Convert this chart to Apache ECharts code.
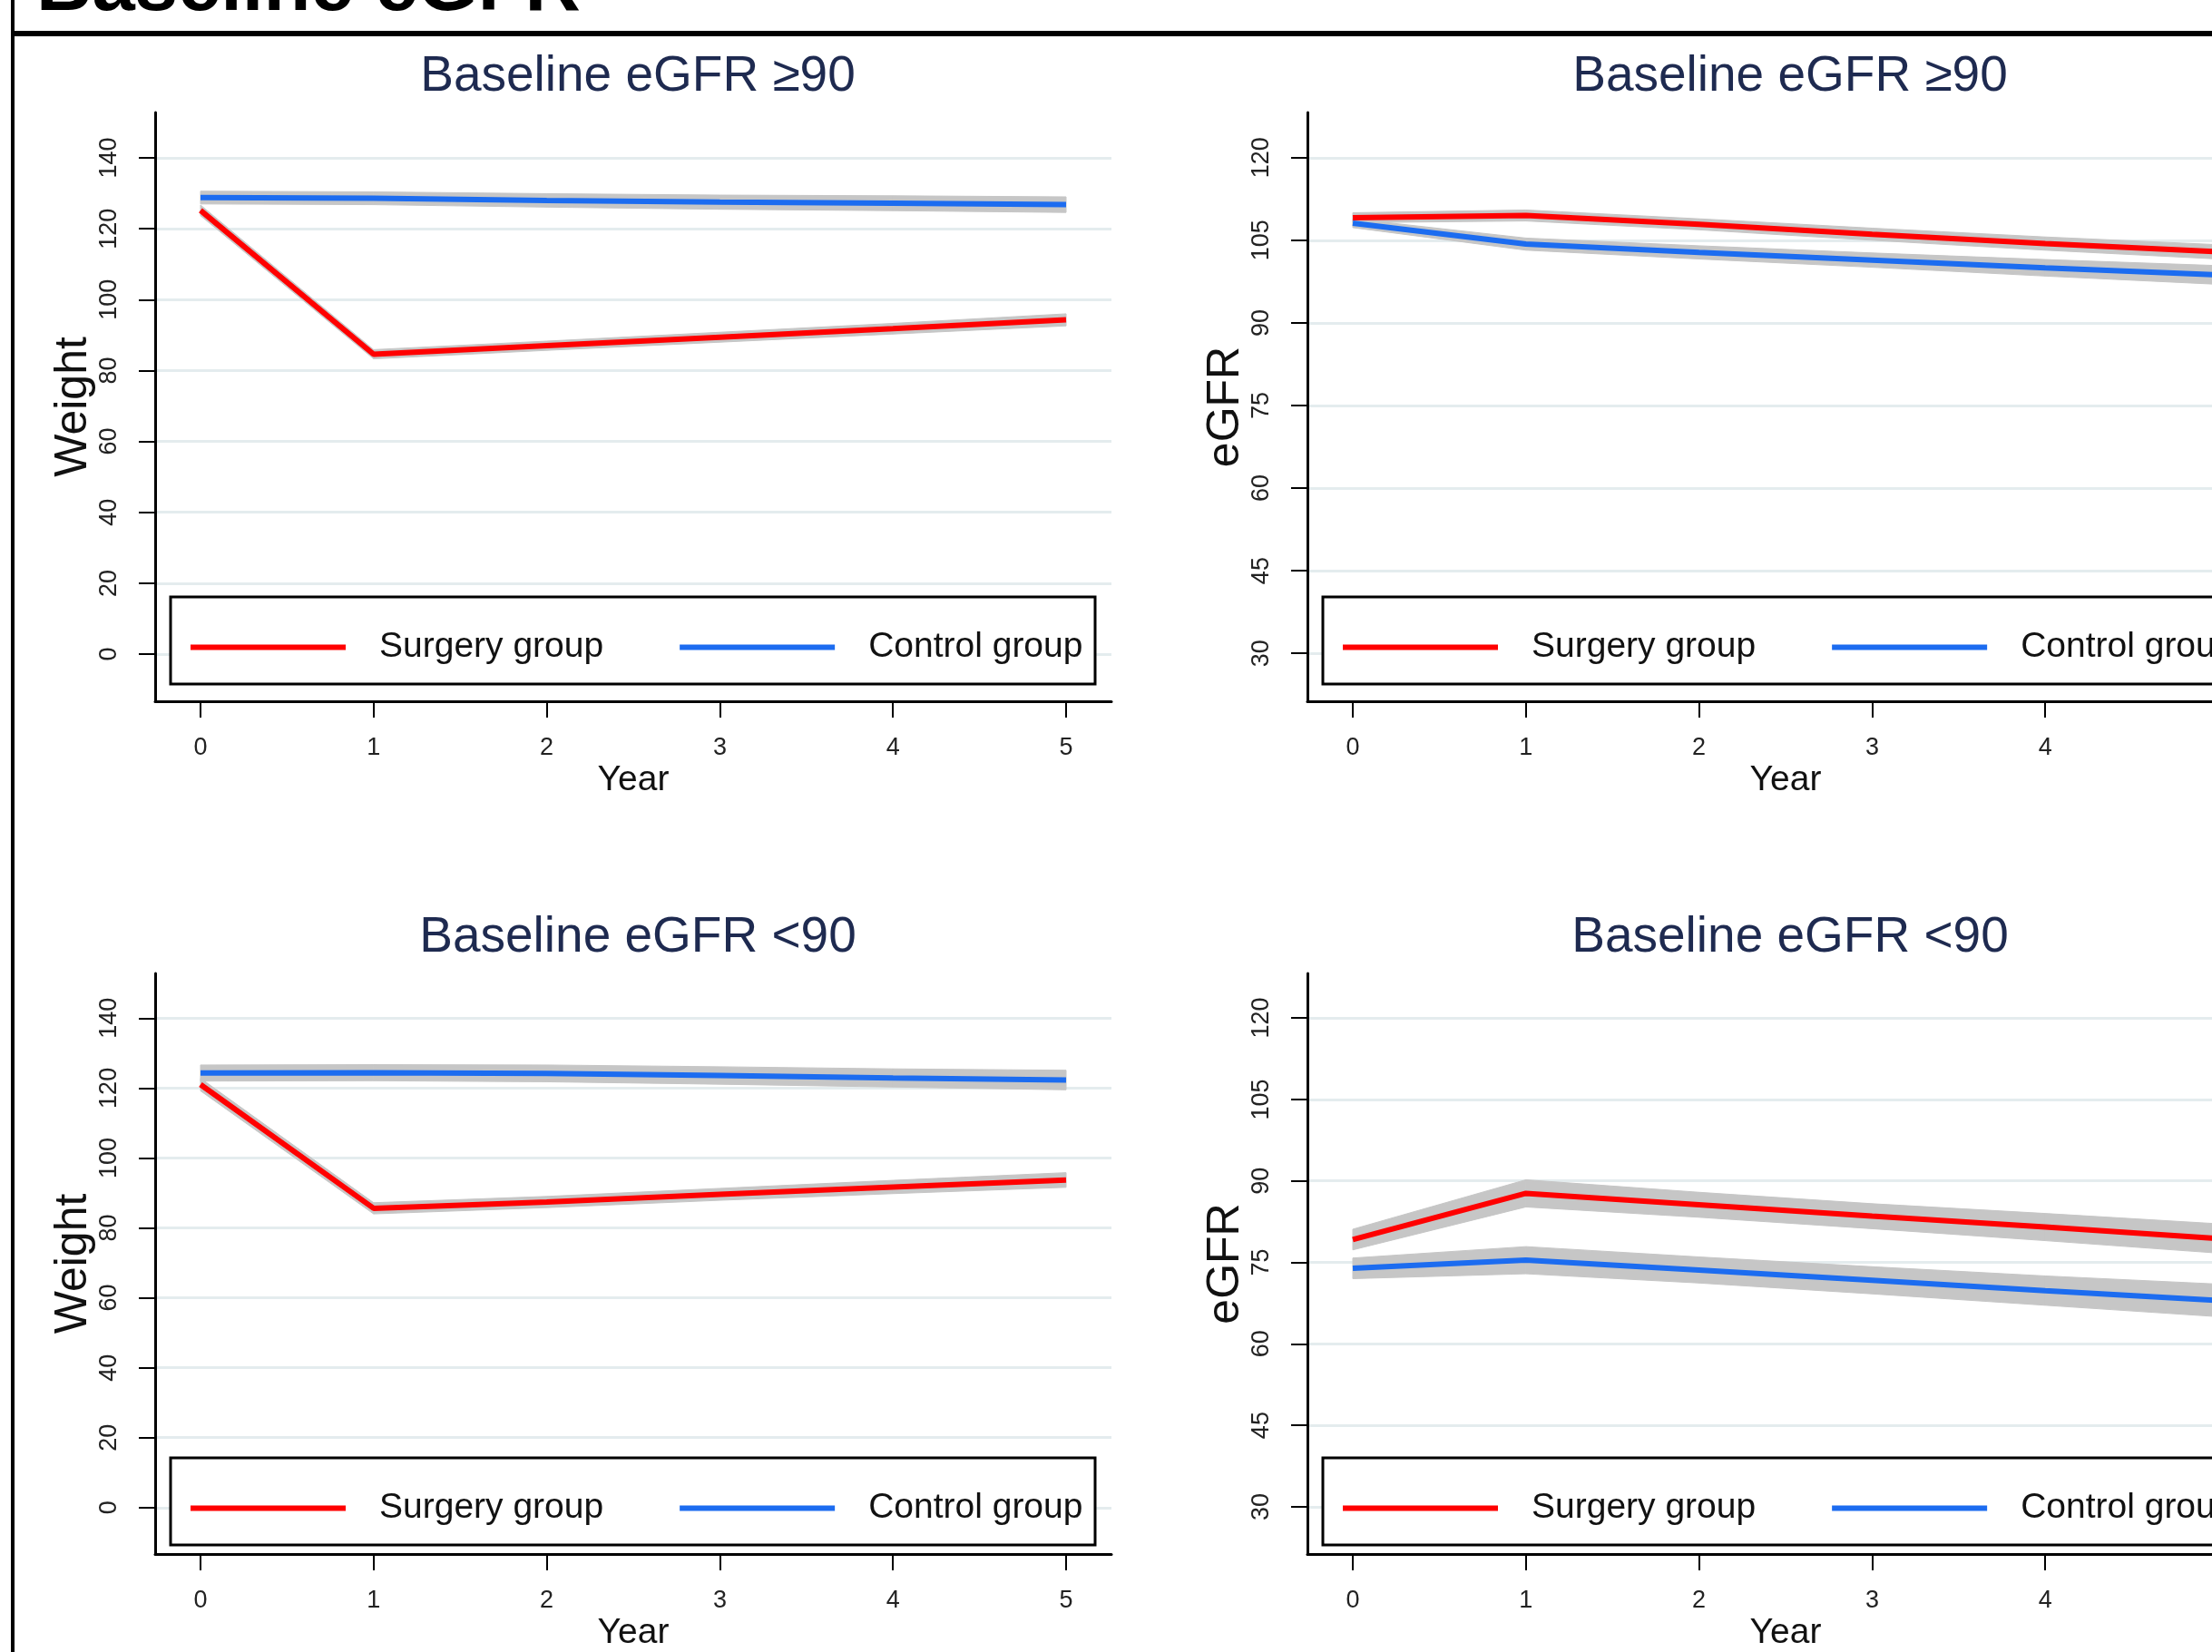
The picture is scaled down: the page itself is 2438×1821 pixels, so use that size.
<!DOCTYPE html>
<html>
<head>
<meta charset="utf-8">
<script src="https://cdn.jsdelivr.net/npm/echarts@6/dist/echarts.min.js"></script>
<style>
  html, body { margin: 0; padding: 0; background: #fff; overflow: hidden; }
  /* the right-hand panels run past the edge of the picture */
  #chart { width: 2520px; height: 1821px; }
</style>
</head>
<body>
<div id="chart"></div>
<script>
// years of follow-up
var years = [0, 1, 2, 3, 4, 5];
var xTicks = [0, 1, 2, 3, 4, 5];
var weightTicks = [0, 20, 40, 60, 80, 100, 120, 140];
var egfrTicks = [30, 45, 60, 75, 90, 105, 120];

// Weight, baseline eGFR >=90
var wHiSurgery   = [125.2, 84.6, 87.0, 89.4, 91.8, 94.3];
var wHiSurgeryLo = [123.7, 83.3, 85.7, 88.0, 90.3, 92.6];
var wHiSurgeryUp = [126.7, 85.9, 88.3, 90.8, 93.3, 96.0];
var wHiControl   = [128.8, 128.6, 128.0, 127.5, 127.2, 126.8];
var wHiControlLo = [127.0, 126.8, 126.1, 125.5, 125.1, 124.6];
var wHiControlUp = [130.6, 130.4, 129.9, 129.5, 129.3, 129.0];

// eGFR, baseline eGFR >=90
var eHiSurgery   = [109.1, 109.5, 107.9, 106.1, 104.4, 102.9];
var eHiSurgeryLo = [108.2, 108.5, 106.9, 105.0, 103.2, 101.6];
var eHiSurgeryUp = [110.0, 110.5, 108.9, 107.2, 105.6, 104.2];
var eHiControl   = [108.1, 104.3, 102.8, 101.4, 100.0, 98.7];
var eHiControlLo = [107.3, 103.2, 101.6, 100.1, 98.5, 97.0];
var eHiControlUp = [108.9, 105.4, 104.0, 102.7, 101.5, 100.4];

// Weight, baseline eGFR <90
var wLoSurgery   = [121.0, 85.6, 87.4, 89.6, 91.7, 93.7];
var wLoSurgeryLo = [119.2, 84.0, 85.8, 87.9, 89.8, 91.6];
var wLoSurgeryUp = [122.8, 87.2, 89.0, 91.3, 93.6, 95.8];
var wLoControl   = [124.3, 124.4, 124.2, 123.6, 122.9, 122.3];
var wLoControlLo = [122.0, 122.1, 121.8, 121.1, 120.3, 119.5];
var wLoControlUp = [126.6, 126.7, 126.6, 126.1, 125.5, 125.1];

// eGFR, baseline eGFR <90
var eLoSurgery   = [79.2, 87.7, 85.6, 83.5, 81.5, 79.4];
var eLoSurgeryLo = [77.3, 85.2, 83.3, 81.2, 79.0, 76.7];
var eLoSurgeryUp = [81.1, 90.2, 87.9, 85.8, 84.0, 82.1];
var eLoControl   = [73.9, 75.4, 73.6, 71.7, 69.8, 68.0];
var eLoControlLo = [72.0, 72.9, 71.2, 69.2, 67.1, 65.0];
var eLoControlUp = [75.8, 77.9, 76.0, 74.2, 72.5, 71.0];

var panelTitles = ['Baseline eGFR \u226590', 'Baseline eGFR \u226590', 'Baseline eGFR <90', 'Baseline eGFR <90'];
var yNames = ['Weight', 'eGFR', 'Weight', 'eGFR'];

var FONT = '"Liberation Sans", Arial, sans-serif';
var RED = '#ff0000';
var BLUE = '#1c6cf0';
var BAND = '#c6c6c6';

var panels = [
  { grid: {left: 171, top: 124, width: 1054, height: 649}, ymin: -13.3, ymax: 152.8, ticks: weightTicks,
    s: wHiSurgery, sLo: wHiSurgeryLo, sUp: wHiSurgeryUp, c: wHiControl, cLo: wHiControlLo, cUp: wHiControlUp },
  { grid: {left: 1441, top: 124, width: 1054, height: 649}, ymin: 21.3, ymax: 128.2, ticks: egfrTicks,
    s: eHiSurgery, sLo: eHiSurgeryLo, sUp: eHiSurgeryUp, c: eHiControl, cLo: eHiControlLo, cUp: eHiControlUp },
  { grid: {left: 171, top: 1073, width: 1054, height: 648}, ymin: -13.3, ymax: 152.8, ticks: weightTicks,
    s: wLoSurgery, sLo: wLoSurgeryLo, sUp: wLoSurgeryUp, c: wLoControl, cLo: wLoControlLo, cUp: wLoControlUp },
  { grid: {left: 1441, top: 1073, width: 1054, height: 648}, ymin: 21.3, ymax: 128.2, ticks: egfrTicks,
    s: eLoSurgery, sLo: eLoSurgeryLo, sUp: eLoSurgeryUp, c: eLoControl, cLo: eLoControlLo, cUp: eLoControlUp }
];

function pairs(ys) {
  return years.map(function (x, i) { return [x, ys[i]]; });
}

// confidence band: one quad per interval, corners placed with api.coord
function bandSeries(i, lo, up) {
  var segs = [];
  for (var k = 0; k < years.length - 1; k++) {
    segs.push([years[k], lo[k], up[k], years[k + 1], lo[k + 1], up[k + 1]]);
  }
  return {
    type: 'custom', xAxisIndex: i, yAxisIndex: i, silent: true, z: 1,
    data: segs,
    encode: {x: [0, 3], y: [1, 2, 4, 5]},
    renderItem: function (params, api) {
      var p1 = api.coord([api.value(0), api.value(2)]);
      var p2 = api.coord([api.value(3), api.value(5)]);
      var p3 = api.coord([api.value(3), api.value(4)]);
      var p4 = api.coord([api.value(0), api.value(1)]);
      return {
        type: 'polygon',
        shape: {points: [p1, p2, p3, p4]},
        style: {fill: BAND, stroke: BAND, lineWidth: 1}
      };
    }
  };
}

var grids = [], xAxes = [], yAxes = [], series = [], titles = [], legends = [], graphics = [];

panels.forEach(function (p, i) {
  grids.push(p.grid);
  var cx = p.grid.left + p.grid.width / 2;
  titles.push({
    text: panelTitles[i], left: cx, top: p.grid.top - 72, textAlign: 'center',
    textStyle: {fontFamily: FONT, fontSize: 55, fontWeight: 'normal', color: '#1e2a50'}
  });
  xAxes.push({
    type: 'value', gridIndex: i, min: -0.262, max: 5.262,
    name: 'Year', nameLocation: 'middle', nameGap: 68,
    nameTextStyle: {fontFamily: FONT, fontSize: 39, color: '#111'},
    axisLine: {onZero: false, lineStyle: {color: '#000', width: 3}},
    axisTick: {customValues: xTicks, length: 18, lineStyle: {color: '#000', width: 2}},
    axisLabel: {customValues: xTicks, margin: 38, fontFamily: FONT, fontSize: 27, color: '#222'},
    splitLine: {show: false}
  });
  yAxes.push({
    type: 'value', gridIndex: i, min: p.ymin, max: p.ymax,
    name: yNames[i], nameLocation: 'middle', nameGap: 54,
    nameTextStyle: {fontFamily: FONT, fontSize: 50, color: '#111'},
    axisLine: {show: true, onZero: false, lineStyle: {color: '#000', width: 3}},
    axisTick: {show: true, customValues: p.ticks, length: 18, lineStyle: {color: '#000', width: 2}},
    axisLabel: {customValues: p.ticks, rotate: 90, margin: 37, fontFamily: FONT, fontSize: 27, color: '#222'},
    splitLine: {show: true, lineStyle: {color: '#e4ecee', width: 3}}
  });

  series.push(bandSeries(i, p.sLo, p.sUp));
  series.push(bandSeries(i, p.cLo, p.cUp));

  series.push({
    type: 'line', name: 'Surgery group', xAxisIndex: i, yAxisIndex: i,
    data: pairs(p.s), symbol: 'none', z: 2,
    itemStyle: {color: RED}, lineStyle: {color: RED, width: 6}
  });
  series.push({
    type: 'line', name: 'Control group', xAxisIndex: i, yAxisIndex: i,
    data: pairs(p.c), symbol: 'none', z: 2,
    itemStyle: {color: BLUE}, lineStyle: {color: BLUE, width: 6}
  });

  // legend box inside the plot region
  var boxX = p.grid.left + 17;
  var boxY = p.grid.top + 534;
  graphics.push({
    type: 'rect', z: 3,
    shape: {x: boxX, y: boxY, width: 1019, height: 96},
    style: {fill: '#fff', stroke: '#000', lineWidth: 3}
  });
  legends.push({
    data: ['Surgery group', 'Control group'], selectedMode: false,
    left: boxX + 22, top: boxY + 36, padding: 0, itemGap: 84,
    icon: 'rect', itemWidth: 171, itemHeight: 6,
    textStyle: {fontFamily: FONT, fontSize: 39, color: '#111', padding: [0, 0, 0, 32]}
  });
});

// outer frame and the clipped figure heading
graphics.push({type: 'line', z: 5, shape: {x1: 14, y1: 0, x2: 14, y2: 1821}, style: {stroke: '#000', lineWidth: 4}});
graphics.push({type: 'line', z: 5, shape: {x1: 14, y1: 37, x2: 2520, y2: 37}, style: {stroke: '#000', lineWidth: 6}});
graphics.push({
  type: 'text', z: 5, x: 40, y: 30,
  style: {text: 'Baseline eGFR', fontFamily: FONT, fontSize: 85, fontWeight: 'bold', fill: '#000', verticalAlign: 'bottom'}
});

var myChart = echarts.init(document.getElementById('chart'));
myChart.setOption({
  backgroundColor: '#fff',
  animation: false,
  title: titles,
  legend: legends,
  grid: grids,
  xAxis: xAxes,
  yAxis: yAxes,
  series: series,
  graphic: graphics
});
</script>
</body>
</html>
